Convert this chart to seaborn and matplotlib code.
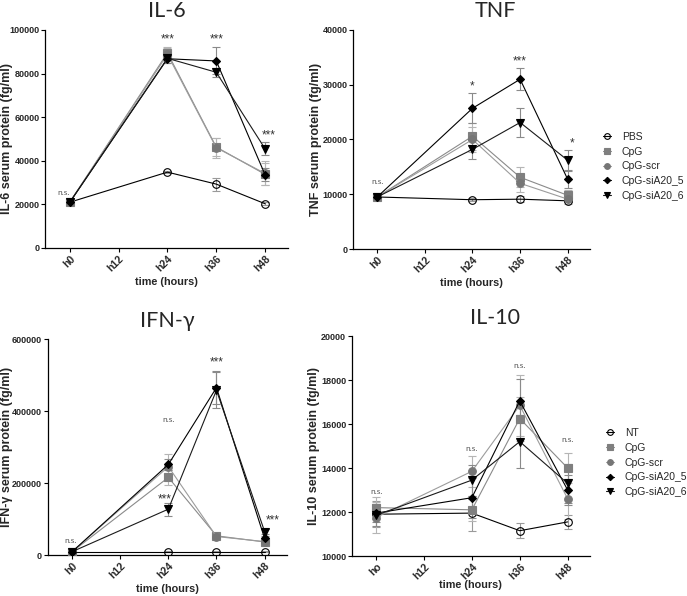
import matplotlib
matplotlib.use("Agg")
import matplotlib.pyplot as plt
import seaborn as sns

# time points (hours) that were sampled, and the axis ticks
hours = [0, 24, 36, 48]
tick_hours = [0, 12, 24, 36, 48]
tick_labels = ["h0", "h12", "h24", "h36", "h48"]
tick_labels_il10 = ["ho", "h12", "h24", "h36", "h48"]

series_keys = ["ctrl", "CpG", "CpG-scr", "CpG-siA20_5", "CpG-siA20_6"]
names_top = ["PBS", "CpG", "CpG-scr", "CpG-siA20_5", "CpG-siA20_6"]
names_bottom = ["NT", "CpG", "CpG-scr", "CpG-siA20_5", "CpG-siA20_6"]

# IL-6 (fg/ml): mean / sem, one row per group
il6_mean = [
    [21000, 34800, 29300, 20300],
    [21000, 89500, 46300, 33800],
    [21000, 88800, 46000, 34200],
    [21000, 86800, 85800, 33600],
    [21000, 87000, 80600, 45500],
]
il6_sem = [
    [700, 500, 3000, 600],
    [800, 2500, 4000, 5000],
    [800, 3000, 4500, 5500],
    [800, 2000, 6200, 3000],
    [800, 2000, 2000, 3000],
]

# TNF (fg/ml)
tnf_mean = [
    [9500, 9000, 9100, 8800],
    [9500, 20600, 13100, 9800],
    [9500, 20000, 12000, 9100],
    [9500, 25700, 31000, 12700],
    [9500, 18200, 23100, 16200],
]
tnf_sem = [
    [500, 300, 500, 300],
    [600, 2500, 1800, 900],
    [600, 2200, 1500, 800],
    [600, 2700, 2000, 1500],
    [600, 1800, 2600, 1800],
]

# IFN-gamma (fg/ml)
ifn_mean = [
    [10000, 10000, 10000, 10000],
    [10000, 216000, 54000, 37000],
    [10000, 246000, 52000, 38000],
    [10000, 252000, 465000, 47000],
    [10000, 128000, 458000, 66000],
]
ifn_sem = [
    [2000, 2000, 2000, 2000],
    [3000, 20000, 5000, 4000],
    [3000, 35000, 5000, 4000],
    [3000, 15000, 45000, 6000],
    [3000, 18000, 50000, 8000],
]

# IL-10 (fg/ml)
il10_mean = [
    [11900, 11950, 11150, 11550],
    [12200, 12100, 16250, 14000],
    [11750, 13850, 16850, 12600],
    [11950, 12650, 17050, 13000],
    [11850, 13450, 15200, 13300],
]
il10_sem = [
    [600, 800, 350, 300],
    [500, 500, 1000, 700],
    [700, 700, 1400, 900],
    [400, 900, 1000, 700],
    [500, 700, 1200, 900],
]

# significance labels: (hour, value, text)
il6_notes = [(-1.5, 25500, "n.s."), (24, 95500, "***"), (36, 95500, "***"), (49, 51800, "***")]
tnf_notes = [(0, 12300, "n.s."), (24, 29600, "*"), (36, 34200, "***"), (49, 19200, "*")]
ifn_notes = [(-0.5, 40000, "n.s."), (24, 378000, "n.s."), (23, 155000, "***"),
             (36, 535000, "***"), (50, 96000, "***")]
il10_notes = [(0, 12950, "n.s."), (24, 14900, "n.s."), (36, 18650, "n.s."), (48, 15300, "n.s.")]

styles = {
    "ctrl": dict(marker="o", ms=5.5, mfc="none", mec="black", color="black", ecolor="#9a9a9a"),
    "CpG": dict(marker="s", ms=5.5, mfc="#7f7f7f", mec="#7f7f7f", color="#8a8a8a", ecolor="#b5b5b5"),
    "CpG-scr": dict(marker="o", ms=5.5, mfc="#767676", mec="#767676", color="#9c9c9c", ecolor="#b5b5b5"),
    "CpG-siA20_5": dict(marker="D", ms=4.3, mfc="black", mec="black", color="black", ecolor="#8a8a8a"),
    "CpG-siA20_6": dict(marker="v", ms=5.2, mfc="black", mec="black", color="#1a1a1a", ecolor="#8a8a8a"),
}

sns.set_style("ticks")
plt.rcParams["font.family"] = ["Liberation Sans", "DejaVu Sans"]

fig = plt.figure(figsize=(6.87, 5.96), dpi=100)


def draw_panel(rect, means, sems, names, title, title_x, ylabel, yticks, ylim,
               xlabels, notes, ylab_x, xlab_y, legend_at=None):
    ax = fig.add_axes(rect)
    for key, name, m, e in zip(series_keys, names, means, sems):
        st = styles[key]
        ax.errorbar(hours, m, yerr=e, fmt="none", ecolor=st["ecolor"],
                    elinewidth=0.8, capsize=2.6, capthick=0.8, zorder=2)
        sns.lineplot(x=hours, y=m, ax=ax, color=st["color"], lw=0.8,
                     marker=st["marker"], ms=st["ms"], mfc=st["mfc"],
                     mec=st["mec"], mew=0.8, label=name, errorbar=None, zorder=3)

    ax.set_xlim(-6.1, 53.6)
    ax.set_ylim(*ylim)
    ax.set_yticks(yticks)
    ax.set_yticklabels([str(v) for v in yticks], fontsize=6.5, fontweight="bold")
    ax.set_xticks(tick_hours)
    ax.set_xticklabels(xlabels, rotation=45, ha="right", rotation_mode="anchor",
                       fontsize=7.5, fontweight="bold")
    ax.tick_params(axis="both", length=3, width=0.8, pad=1, color="black")
    sns.despine(ax=ax)
    for sp in ["left", "bottom"]:
        ax.spines[sp].set_linewidth(0.9)
        ax.spines[sp].set_color("black")

    ax.set_ylabel(ylabel, fontsize=9, fontweight="bold")
    ax.set_xlabel("time (hours)", fontsize=7.8, fontweight="bold")
    ax.yaxis.set_label_coords(ylab_x, 0.5)
    ax.xaxis.set_label_coords(0.5, xlab_y)

    ax.annotate(title, xy=(title_x, 1), xycoords="axes fraction", xytext=(0, 9),
                textcoords="offset points", ha="center", va="baseline",
                fontsize=15.5, family=["Lato", "DejaVu Sans"])

    for hx, hy, txt in notes:
        if txt == "n.s.":
            ax.text(hx, hy, txt, ha="center", va="center", fontsize=6,
                    color="#555555", family=["Lato", "DejaVu Sans"])
        else:
            ax.text(hx, hy, txt, ha="center", va="center", fontsize=8.5,
                    color="#333333")

    leg = ax.get_legend()
    if leg is not None:
        leg.remove()
    if legend_at is not None:
        ax.legend(loc="center left", bbox_to_anchor=legend_at, frameon=False,
                  borderaxespad=0, borderpad=0, handlelength=0.8,
                  handletextpad=1.0, labelspacing=0.45, markerscale=0.75,
                  prop={"size": 7.5})
    return ax


draw_panel([0.0655, 0.5839, 0.3535, 0.3658], il6_mean, il6_sem, names_top,
           "IL-6", 0.5, "IL-6 serum protein (fg/ml)",
           [0, 20000, 40000, 60000, 80000, 100000], (0, 100000),
           tick_labels, il6_notes, -0.132, -0.133)

draw_panel([0.5138, 0.5822, 0.345, 0.3675], tnf_mean, tnf_sem, names_top,
           "TNF", 0.60, "TNF serum protein (fg/ml)",
           [0, 10000, 20000, 30000, 40000], (0, 40000),
           tick_labels, tnf_notes, -0.131, -0.132, legend_at=(1.055, 0.377))

draw_panel([0.0694, 0.0683, 0.3484, 0.3629], ifn_mean, ifn_sem, names_bottom,
           "IFN-γ", 0.5, "IFN-γ serum protein (fg/ml)",
           [0, 200000, 400000, 600000], (0, 600000),
           tick_labels, ifn_notes, -0.145, -0.133)

draw_panel([0.512, 0.0671, 0.3468, 0.3691], il10_mean, il10_sem, names_bottom,
           "IL-10", 0.60, "IL-10 serum protein (fg/ml)",
           [10000, 12000, 14000, 16000, 18000, 20000], (10000, 20000),
           tick_labels_il10, il10_notes, -0.133, -0.109, legend_at=(1.067, 0.425))

fig.savefig("out.png", dpi=100)
